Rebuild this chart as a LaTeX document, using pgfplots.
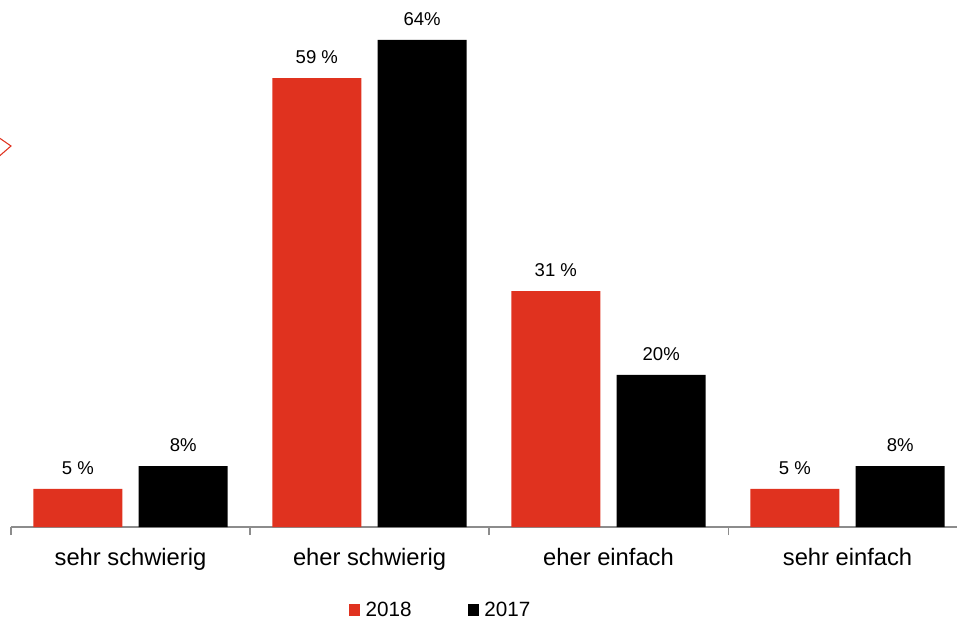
\documentclass[border=0pt]{standalone}
\usepackage{fontspec}
\setmainfont{Liberation Sans}
\usepackage{pgfplots}
\pgfplotsset{compat=1.18}
\definecolor{myred}{HTML}{E0321F}
\definecolor{axgray}{HTML}{8C8C8C}
\begin{document}
\begin{tikzpicture}
\begin{axis}[
  at={(8.25pt,69pt)}, anchor=south west,
  scale only axis, width=709.5pt, height=395.25pt,
  xmin=-0.5, xmax=3.458, ymin=0, ymax=69.25,
  axis x line*=bottom, axis y line=none,
  axis line style={-, draw=axgray, line width=0.8pt},
  xtick={0,1,2,3},
  xticklabels={sehr schwierig, eher schwierig, eher einfach, sehr einfach},
  major tick length=0pt,
  minor xtick={-0.5,0.5,1.5,2.5},
  minor tick length=6pt,
  tick align=outside,
  every tick/.style={draw=axgray, line width=0.8pt},
  xticklabel style={font=\fontsize{17.8}{20}\selectfont, inner sep=0pt, yshift=-15.5pt},
  ybar, bar width=66.75pt,
  point meta=explicit symbolic,
  nodes near coords,
  every node near coord/.append style={font=\fontsize{13.9}{16}\selectfont, inner sep=0pt, yshift=10.5pt, text=black},
  legend columns=2,
  legend style={at={(0.4545,-0.1575)}, anchor=center, draw=none, fill=none,
    font=\fontsize{15.5}{18}\selectfont,
    /tikz/every odd column/.append style={column sep=2pt},
    /tikz/every even column/.append style={column sep=40pt}},
  legend image code/.code={\fill[#1] (0pt,-4.5pt) rectangle (8.5pt,4.5pt);},
]
\addplot[fill=myred, draw=none, bar shift=-39.5pt] coordinates {
  (0,5) [5 \%] (1,59) [59 \%] (2,31) [31 \%] (3,5) [5 \%]
};
\addplot[fill=black, draw=none, bar shift=39.5pt] coordinates {
  (0,8) [8\%] (1,64) [64\%] (2,20) [20\%] (3,8) [8\%]
};
\legend{2018, 2017}
\end{axis}
\draw[myred, line width=0.8pt] (-3pt,362.5pt) -- (8.25pt,354.75pt) -- (-3pt,345pt);
\pgfresetboundingbox
\useasboundingbox (0,0) rectangle (717.75pt,464.25pt);
\end{tikzpicture}
\end{document}
